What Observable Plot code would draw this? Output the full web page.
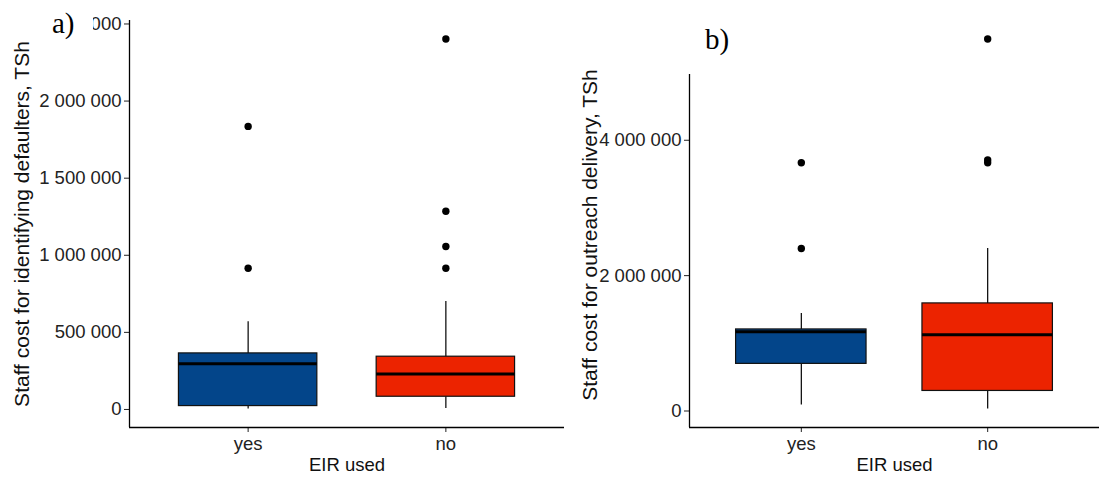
<!DOCTYPE html>
<html><head><meta charset="utf-8">
<script src="https://cdn.jsdelivr.net/npm/d3@7"></script>
<script src="https://cdn.jsdelivr.net/npm/@observablehq/plot@0.6"></script>
<style>
body{margin:0;background:#fff;}
#wrap{position:relative;width:1099px;height:490px;overflow:hidden;font-family:"Liberation Sans",Arial,sans-serif;}
#pa,#pb{position:absolute;top:0;}
#pa{left:0}
#pb{left:575px}
.tag{position:absolute;background:#fff;font-family:"Liberation Serif","Times New Roman",serif;font-size:29px;line-height:1;color:#000;}
.tag span{position:absolute;}
</style></head><body>
<div id="wrap"><div id="pa"></div><div id="pb"></div>
<div class="tag" style="left:34px;top:0;width:59px;height:34px;"><span style="left:18px;top:9px;">a)</span></div>
<div class="tag" style="left:640px;top:0;width:200px;height:74px;"><span style="left:65px;top:25px;">b)</span></div>
</div>
<script>
const groups = ["yes", "no"];
const groupColors = ["#03458A", "#EC2300"];
const xLabel = "EIR used";

// Panel a: staff cost for identifying defaulters (TSh)
const aTitle = "Staff cost for identifying defaulters, TSh";
const aLow  = [3000, 6500];
const aQ1   = [22000, 82500];
const aMed  = [296700, 229900];
const aQ3   = [363600, 342200];
const aHigh = [569500, 699400];
const aOutYes = [915600, 1835700];
const aOutNo  = [915600, 1056500, 1285700, 2402600];
const aTicks = [0, 500000, 1000000, 1500000, 2000000, 2500000];

// Panel b: staff cost for outreach delivery (TSh)
const bTitle = "Staff cost for outreach delivery, TSh";
const bLow  = [88900, 29600];
const bQ1   = [696300, 296300];
const bMed  = [1170000, 1125900];
const bQ3   = [1205000, 1589600];
const bHigh = [1441500, 2400000];
const bOutYes = [2400000, 3668000];
const bOutNo  = [3668000, 3708000, 5496000];
const bTicks = [0, 2000000, 4000000];

const fmt = d => d3.format(",")(d).replace(/,/g, " ");

function panel(o) {
  const rows = groups.map((g, i) => ({g, pos: i + 1, low: o.low[i], q1: o.q1[i], med: o.med[i], q3: o.q3[i], high: o.high[i]}));
  const outs = [...o.outYes.map(v => ({g: groups[0], pos: 1, v})), ...o.outNo.map(v => ({g: groups[1], pos: 2, v}))];
  const all = [...o.low, ...o.high, ...o.outYes, ...o.outNo];
  const mn = d3.min(all), mx = d3.max(all), ex = (mx - mn) * 0.05;
  const yDomain = [mn - ex, mx + ex];
  const xDomain = [1 - 0.6, groups.length + 0.6];
  const hw = 0.35;
  return Plot.plot({
    width: o.width, height: 490,
    marginLeft: o.marginLeft, marginRight: o.marginRight, marginTop: 20, marginBottom: 63,
    style: {fontFamily: "Liberation Sans, Arial, sans-serif", overflow: "visible", background: "transparent"},
    x: {type: "linear", domain: xDomain, label: null},
    y: {domain: yDomain, label: null},
    color: {domain: groups, range: groupColors},
    marks: [
      Plot.ruleX(rows, {x: "pos", y1: "low", y2: "q1", stroke: "#000", strokeWidth: 1.2}),
      Plot.ruleX(rows, {x: "pos", y1: "q3", y2: "high", stroke: "#000", strokeWidth: 1.2}),
      Plot.rectY(rows, {x1: d => d.pos - hw, x2: d => d.pos + hw, y1: "q1", y2: "q3", fill: "g", stroke: "#111", strokeWidth: 1.2}),
      Plot.ruleY(rows, {x1: d => d.pos - hw, x2: d => d.pos + hw, y: "med", stroke: "#000", strokeWidth: 3}),
      Plot.dot(outs, {x: "pos", y: "v", r: 3.7, fill: "#000", stroke: null}),
      Plot.axisY({ticks: o.ticks, tickFormat: fmt, tickSize: 5, tickPadding: 3, fontSize: 18.5, color: "#222", label: null}),
      Plot.axisX({ticks: [1, 2], tickFormat: d => groups[d - 1], tickSize: 5, tickPadding: 4, fontSize: 18.5, color: "#222", label: null}),
      Plot.ruleY([yDomain[0]], {stroke: "#000", strokeWidth: 1.3}),
      Plot.ruleX([xDomain[0]], {stroke: "#000", strokeWidth: 1.3}),
      Plot.text([o.title], {text: d => d, frameAnchor: "left", textAnchor: "middle", lineAnchor: "middle", dx: o.titleDx, dy: o.titleDy, rotate: -90, fontSize: 21, fill: "#111"}),
      Plot.text([xLabel], {text: d => d, frameAnchor: "bottom", textAnchor: "middle", dy: 43, fontSize: 18.5, fill: "#111"})
    ]
  });
}

document.getElementById("pa").append(panel({
  low: aLow, q1: aQ1, med: aMed, q3: aQ3, high: aHigh, outYes: aOutYes, outNo: aOutNo,
  ticks: aTicks, title: aTitle, width: 575, marginLeft: 129, marginRight: 11, titleDx: -107, titleDy: 0
}));
document.getElementById("pb").append(panel({
  low: bLow, q1: bQ1, med: bMed, q3: bQ3, high: bHigh, outYes: bOutYes, outNo: bOutNo,
  ticks: bTicks, title: bTitle, width: 524, marginLeft: 114, marginRight: 0, titleDx: -99, titleDy: 11
}));
</script>
</body></html>
